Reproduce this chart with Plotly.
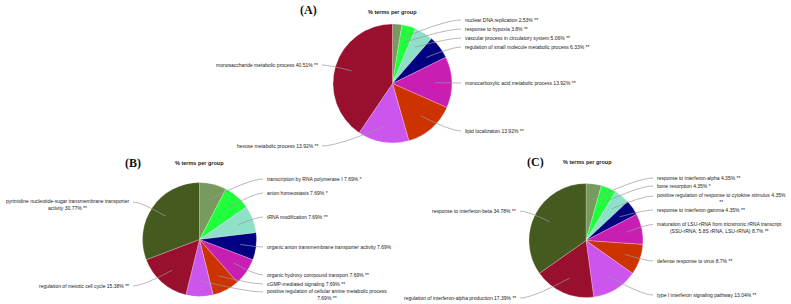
import math
import plotly.graph_objects as go

W, H = 791, 304

# ---------------- data ----------------
a_labels = ["nuclear DNA replication 2.53% **",
            "response to hypoxia 3.8% **",
            "vascular process in circulatory system 5.06% **",
            "regulation of small molecule metabolic process 6.33% **",
            "monocarboxylic acid metabolic process 13.92% **",
            "lipid localization 13.92% **",
            "hexose metabolic process 13.92% **",
            "monosaccharide metabolic process 40.51% **"]
a_values = [2.53, 3.8, 5.06, 6.33, 13.92, 13.92, 13.92, 40.51]

b_labels = ["transcription by RNA polymerase I 7.69% *",
            "anion homeostasis 7.69% *",
            "tRNA modification 7.69% **",
            "organic anion transmembrane transporter activity 7.69%",
            "organic hydroxy compound transport 7.69% **",
            "cGMP-mediated signaling 7.69% **",
            "positive regulation of cellular amine metabolic process<br>7.69% **",
            "regulation of meiotic cell cycle 15.38% **",
            "pyrimidine nucleotide-sugar transmembrane transporter<br>activity 30.77% **"]
b_values = [7.69, 7.69, 7.69, 7.69, 7.69, 7.69, 7.69, 15.38, 30.77]

c_labels = ["response to interferon-alpha 4.35% **",
            "bone resorption 4.35% *",
            "positive regulation of response to cytokine stimulus 4.35%<br>**",
            "response to interferon-gamma 4.35% **",
            "maturation of LSU-rRNA from tricistronic rRNA transcript<br>(SSU-rRNA, 5.8S rRNA, LSU-rRNA) 8.7% **",
            "defense response to virus 8.7% **",
            "type I interferon signaling pathway 13.04% **",
            "regulation of interferon-alpha production 17.39% **",
            "response to interferon-beta 34.78% **"]
c_values = [4.35, 4.35, 4.35, 4.35, 8.7, 8.7, 13.04, 17.39, 34.78]

panel_letters = ["(A)", "(B)", "(C)"]
group_title = "% terms per group"

a_colors = ["#789a5e", "#1fff3c", "#8fe0c8", "#000080", "#c81eb4", "#cc3300", "#cc55ee", "#990f2e"]
bc_colors = ["#789a5e", "#1fff3c", "#8fe0c8", "#000080", "#c81eb4", "#cc3300", "#cc55ee", "#990f2e", "#445a1e"]

# ---------------- layout (pixels) ----------------
panels = [
    dict(vals=a_values, labs=a_labels, cols=a_colors, cx=392.5, cy=83.5, r=59.5,
         ly=[20, 29, 38, 47, 83, 131, 146, 65], rx=463, lx=320,
         letter=(308, 10), title=(392, 12)),
    dict(vals=b_values, labs=b_labels, cols=bc_colors, cx=199.5, cy=239.5, r=57,
         ly=[179, 193, 217, 247, 275, 284, 294.5, 286, 204.5], rx=265, lx=131,
         letter=(133, 163), title=(199, 163)),
    dict(vals=c_values, labs=c_labels, cols=bc_colors, cx=586, cy=240.5, r=57,
         ly=[178, 186, 198.5, 210, 227, 261, 295, 298, 211], rx=655, lx=518,
         letter=(535, 162), title=(587, 162)),
]

fig = go.Figure()
# invisible full-figure pixel axes for annotations / leader lines
fig.add_trace(go.Scatter(x=[0, W], y=[0, H], mode="markers",
                         marker=dict(opacity=0), hoverinfo="skip", showlegend=False))

shapes = []
annotations = []
label_font = dict(family="Liberation Sans, Arial, sans-serif", size=5, color="#1a1a1a")

for i, p in enumerate(panels):
    cx, cy, r = p["cx"], p["cy"], p["r"]
    fig.add_trace(go.Pie(
        values=p["vals"], labels=[l.replace("<br>", " ") for l in p["labs"]],
        sort=False, direction="clockwise", rotation=0,
        marker=dict(colors=p["cols"], line=dict(color="rgba(255,255,255,0.6)", width=0.4)),
        textinfo="none", hoverinfo="label", showlegend=False,
        domain=dict(x=[(cx - r) / W, (cx + r) / W], y=[1 - (cy + r) / H, 1 - (cy - r) / H]),
    ))
    total = sum(p["vals"])
    cum = 0.0
    for v, lab, ly in zip(p["vals"], p["labs"], p["ly"]):
        th = 2 * math.pi * (cum + v / 2) / total
        cum += v
        px = cx + 0.72 * r * math.sin(th)
        py = cy - 0.72 * r * math.cos(th)
        right = math.sin(th) > 0
        two = "<br>" in lab
        if right:
            ex = p["rx"] - 2
            ax = p["rx"]
            xanchor = "left"
        else:
            ex = p["lx"] + 2
            ax = p["lx"]
            xanchor = "right"
        ey = ly - 2.5 if two else ly
        ctrlx = (px + ex) / 2 + (0.25 * (ex - px))
        shapes.append(dict(type="path", xref="x", yref="y", layer="above",
                           path=f"M {ex},{ey} Q {ctrlx},{ey} {px},{py}",
                           line=dict(color="#9a9a9a", width=0.7)))
        annotations.append(dict(x=ax, y=ly, xref="x", yref="y", text=lab, showarrow=False,
                                xanchor=xanchor, yanchor="middle", align="center",
                                font=label_font))
    lx_, ly_ = p["letter"]
    annotations.append(dict(x=lx_, y=ly_, xref="x", yref="y", text="<b>" + panel_letters[i] + "</b>",
                            showarrow=False, xanchor="center", yanchor="middle",
                            font=dict(family="Liberation Serif, Times New Roman, serif", size=12, color="#111")))
    tx, ty = p["title"]
    annotations.append(dict(x=tx, y=ty, xref="x", yref="y", text="<b>" + group_title + "</b>",
                            showarrow=False, xanchor="center", yanchor="middle",
                            font=dict(family="Liberation Sans, Arial, sans-serif", size=5.5, color="#222")))

fig.update_layout(
    width=W, height=H, margin=dict(l=0, r=0, t=0, b=0),
    paper_bgcolor="white", plot_bgcolor="white",
    xaxis=dict(range=[0, W], visible=False, fixedrange=True),
    yaxis=dict(range=[H, 0], visible=False, fixedrange=True),
    shapes=shapes, annotations=annotations,
)

fig.write_html("out.html", config={"displayModeBar": False},
               post_script="document.body.style.margin='0';document.body.style.overflow='hidden';")
